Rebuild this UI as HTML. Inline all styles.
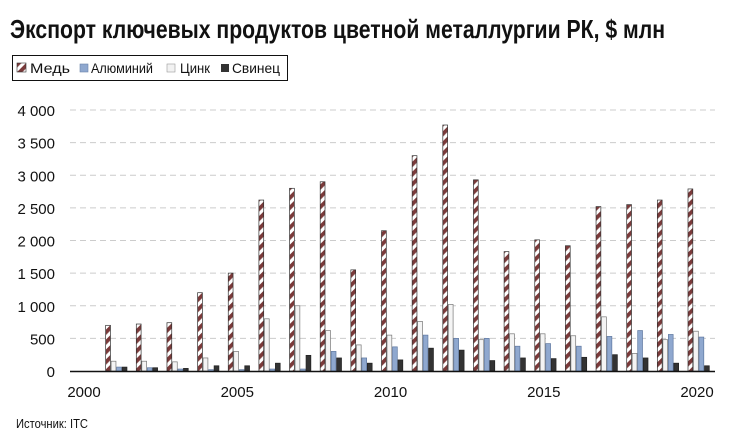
<!DOCTYPE html>
<html><head><meta charset="utf-8"><style>
body{margin:0;background:#fff;width:730px;height:438px;overflow:hidden;font-family:"Liberation Sans",sans-serif}
</style></head><body>
<svg id="s" width="730" height="438" xmlns="http://www.w3.org/2000/svg">
<defs>
<pattern id="st" patternUnits="userSpaceOnUse" width="7" height="7" patternTransform="rotate(-45)">
<rect width="7" height="7" fill="#fff"/><rect width="7" height="3.8" fill="#7a3a3a"/>
</pattern>
</defs>
<text x="10" y="38" font-size="26" font-weight="bold" fill="#111" textLength="655" lengthAdjust="spacingAndGlyphs">Экспорт ключевых продуктов цветной металлургии РК, $ млн</text>
<rect x="12.5" y="55.5" width="275" height="25" fill="#fff" stroke="#111" stroke-width="1"/>
<rect x="17" y="63" width="9" height="9" fill="url(#st)" stroke="#333" stroke-width="0.6"/>
<text x="30" y="73" font-size="14" fill="#111" textLength="40" lengthAdjust="spacingAndGlyphs">Медь</text>
<rect x="80" y="64" width="8" height="8" fill="#8fa8cf" stroke="#6d84aa" stroke-width="0.6"/>
<text x="91" y="73" font-size="14" fill="#111" textLength="62" lengthAdjust="spacingAndGlyphs">Алюминий</text>
<rect x="167" y="64" width="8" height="8" fill="#f2f2f2" stroke="#999" stroke-width="0.6"/>
<text x="180" y="73" font-size="14" fill="#111" textLength="30" lengthAdjust="spacingAndGlyphs">Цинк</text>
<rect x="221" y="64" width="8" height="8" fill="#333"/>
<text x="232" y="73" font-size="14" fill="#111" textLength="48" lengthAdjust="spacingAndGlyphs">Свинец</text>
<g id="g"></g>
<line x1="70" y1="371.5" x2="715" y2="371.5" stroke="#111" stroke-width="1.5"/>
<text x="16" y="428" font-size="13" fill="#111" textLength="72" lengthAdjust="spacingAndGlyphs">Источник: ITC</text>
</svg>
<script>
var g=document.getElementById('g'),h='';
function y(v){return 371-v*0.06525;}
for(var i=1;i<=8;i++){var yy=y(i*500);h+='<line x1="70" y1="'+yy+'" x2="715" y2="'+yy+'" stroke="#ccc" stroke-dasharray="6,4" stroke-width="1"/>';}
for(var i=0;i<=8;i++){var v=i*500;var l=v>=1000?Math.floor(v/1000)+' '+('00'+v%1000).slice(-3):''+v;h+='<text x="55" y="'+(y(v)+6)+'" font-size="15" text-anchor="end" fill="#111">'+l+'</text>';}
for(var yr=2000;yr<=2020;yr+=5){h+='<text x="'+(84+(yr-2000)*30.65)+'" y="397" font-size="15" text-anchor="middle" fill="#111">'+yr+'</text>';}
var d=[[700,150,60,60],[720,150,50,50],[740,140,30,40],[1200,200,20,80],[1500,300,20,80],[2620,800,30,120],[2800,1000,30,240],[2900,620,300,200],[1550,400,200,120],[2150,550,370,170],[3300,760,550,350],[3770,1020,500,320],[2930,480,500,160],[1830,570,380,200],[2010,570,420,190],[1920,540,380,210],[2520,830,530,250],[2550,270,620,200],[2620,480,560,120],[2790,610,520,80]];
var f=['url(#st)','#f4f4f4','#8fa8cf','#333'],sk=['#333','#777','#5f78a0','#222'];
for(var k=0;k<20;k++){var c=84+(k+1)*30.65-9;for(var j=0;j<4;j++){var v=d[k][j],x=c+j*5.5,t=y(v);h+='<rect x="'+x+'" y="'+t+'" width="4.8" height="'+(371-t)+'" fill="'+f[j]+'" stroke="'+sk[j]+'" stroke-width="0.7"/>';}}
g.innerHTML=h;
</script>
</body></html>
